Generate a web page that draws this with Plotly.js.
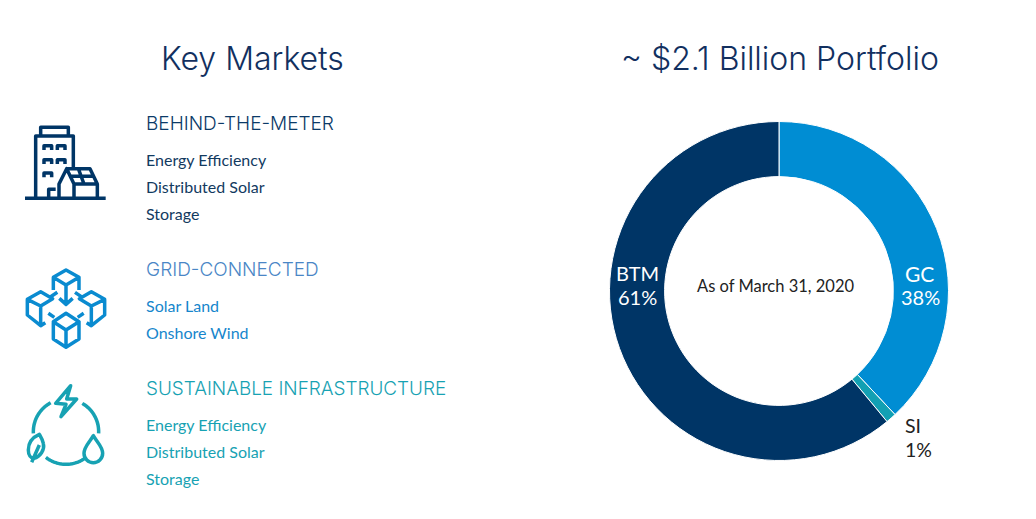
<!DOCTYPE html>
<html><head><meta charset="utf-8">
<script src="https://cdn.plot.ly/plotly-3.0.1.min.js"></script>
<style>html,body{margin:0;padding:0;background:#fff}#c{width:1036px;height:519px}.shapelayer path{stroke-linejoin:round;stroke-linecap:butt}</style>
</head><body><div id="c"></div>
<script>
const sliceLabels = ['GC','SI','BTM'];
const sliceValues = [38,1,61];
const sliceColors = ['#008DD3','#12A0B3','#003566'];
const W=1036,H=519;
const NAVY='#003566',BLUE='#0A8BD0',TEAL='#17A2B3';

function toPaper(d){
  return d.replace(/(-?[\d.]+),(-?[\d.]+)/g,(m,x,y)=>(x/W).toFixed(5)+','+(1-y/H).toFixed(5));
}
function zoomPath(d,ox,oy){
  return d.replace(/(-?[\d.]+),(-?[\d.]+)/g,(m,x,y)=>(ox+x/3).toFixed(2)+','+(oy+y/3).toFixed(2));
}
function icon(d,ox,oy,color,w){
  return {type:'path',xref:'paper',yref:'paper',path:toPaper(zoomPath(d,ox,oy)),line:{color:color,width:w||3.5},layer:'above'};
}
function arc(cx,cy,r,a0,a1){
  let s='';const n=24;
  for(let i=0;i<=n;i++){const a=(a0+(a1-a0)*i/n)*Math.PI/180;
    s+=(i?'L':'M')+(cx+r*Math.cos(a)).toFixed(1)+','+(cy+r*Math.sin(a)).toFixed(1)+' ';}
  return s;
}
const building=[
 'M45,265 L287,265',
 'M77,265 L77,78 L190,78 L190,175',
 'M92,78 L92,52 L175,52 L175,78',
 'M102,120 L102,107 L125,107 L125,120','M142,120 L142,107 L165,107 L165,120',
 'M102,162 L102,149 L125,149 L125,162','M142,162 L142,149 L165,149 L165,162',
 'M102,202 L102,189 L125,189 L125,202',
 'M116,265 L116,238 L137,238',
 'M147,265 L147,222 L170,176 L192,222 L192,265',
 'M170,176 L240,176 L262,222 L192,222','M262,222 L262,265',
 'M181,199 L251,199','M205,176 L222,222'
].join(' ');
const cubes=[
 'M168,30 L207,52 L168,75 L130,52 Z','M130,52 L130,90','M207,52 L207,90','M168,75 L168,130','M148,115 L168,133 L188,115',
 'M92,95 L128,116 L92,138 L52,118 Z','M52,118 L52,165 L92,197 L106,188','M92,138 L92,197',
 'M244,95 L208,116 L244,138 L284,118 Z','M284,118 L284,165 L244,197 L230,188','M244,138 L244,197',
 'M168,160 L207,185 L168,210 L130,185 Z','M130,185 L130,237 L168,262 L207,237 L207,185','M168,210 L168,262',
 'M122,110 L142,97','M214,110 L195,97','M115,160 L133,172','M221,160 L203,172'
].join(' ');
const cycle=[
 arc(168,170,98,-118,-183), arc(168,170,98,-60,3), arc(168,170,98,55,128),
 'M182,32 L137,85 L168,88 L153,125 L200,72 L170,72 Z',
 'M88,178 C65,188 55,205 55,225 C55,240 62,250 72,250 C90,245 105,225 100,205 C98,195 92,185 88,178 Z','M65,262 L88,210',
 'M250,182 C240,200 222,215 222,235 C222,251 235,263 250,263 C265,263 278,251 278,235 C278,215 260,200 250,182 Z'
].join(' ');

function note(text,x,y,size,color,family,anchor,weight){
  return {text:text,xref:'paper',yref:'paper',x:x/W,y:1-y/H,xanchor:anchor||'left',yanchor:'middle',showarrow:false,
    borderpad:0,borderwidth:0,font:{size:size,color:color,family:family,weight:weight||400}};
}
const HEAD='Inter, sans-serif',BODY='Lato, sans-serif',TITLE='#12305F';
const annotations=[
 note('Key Markets',252,58,32,TITLE,HEAD,'center',300),
 note('~ $2.1 Billion Portfolio',779.5,58,32,TITLE,HEAD,'center',300),
 note('BEHIND-THE-METER',145.5,124,19,'#0B3A68',HEAD,'left',300),
 note('Energy Efficiency',145.5,160,16,'#123A5F',BODY),
 note('Distributed Solar',145.5,187,16,'#123A5F',BODY),
 note('Storage',145.5,213.5,16,'#123A5F',BODY),
 note('GRID-CONNECTED',145.5,269.5,19,'#4A86C6',HEAD,'left',300),
 note('Solar Land',145.5,305.5,16,'#1686CC',BODY),
 note('Onshore Wind',145.5,332.5,16,'#1686CC',BODY),
 note('SUSTAINABLE INFRASTRUCTURE',145.5,388.5,18.9,TEAL,HEAD,'left',300),
 note('Energy Efficiency',145.5,424.5,16,TEAL,BODY),
 note('Distributed Solar',145.5,451.5,16,TEAL,BODY),
 note('Storage',145.5,478.5,16,TEAL,BODY),
 note('As of March 31, 2020',775.5,286,16.5,'#222222',BODY,'center'),
 note('BTM',637.5,272.5,20,'#FFFFFF',BODY,'center'),
 note('61%',637.5,297,20,'#FFFFFF',BODY,'center'),
 note('GC',919,273,21,'#FFFFFF',BODY,'center'),
 note('38%',920,297,20,'#FFFFFF',BODY,'center'),
 note('SI',905,425.5,19.5,'#222222',BODY,'left'),
 note('1%',905,449.5,19.5,'#222222',BODY,'left')
];
const R=169.5,CX=779,CY=291;
Plotly.newPlot('c',[{type:'pie',labels:sliceLabels,values:sliceValues,sort:false,direction:'clockwise',rotation:0,hole:0.675,
  marker:{colors:sliceColors,line:{color:'#FFFFFF',width:1}},textinfo:'none',hoverinfo:'label+percent',showlegend:false,
  domain:{x:[(CX-R)/W,(CX+R)/W],y:[1-(CY+R)/H,1-(CY-R)/H]}}],
 {width:W,height:H,margin:{l:0,r:0,t:0,b:0},paper_bgcolor:'#fff',showlegend:false,annotations:annotations,
  shapes:[icon(building,10,110,NAVY),icon(cubes,10,260,BLUE),icon(cycle,10,375,TEAL)]},
 {displayModeBar:false,staticPlot:true});
</script></body></html>
